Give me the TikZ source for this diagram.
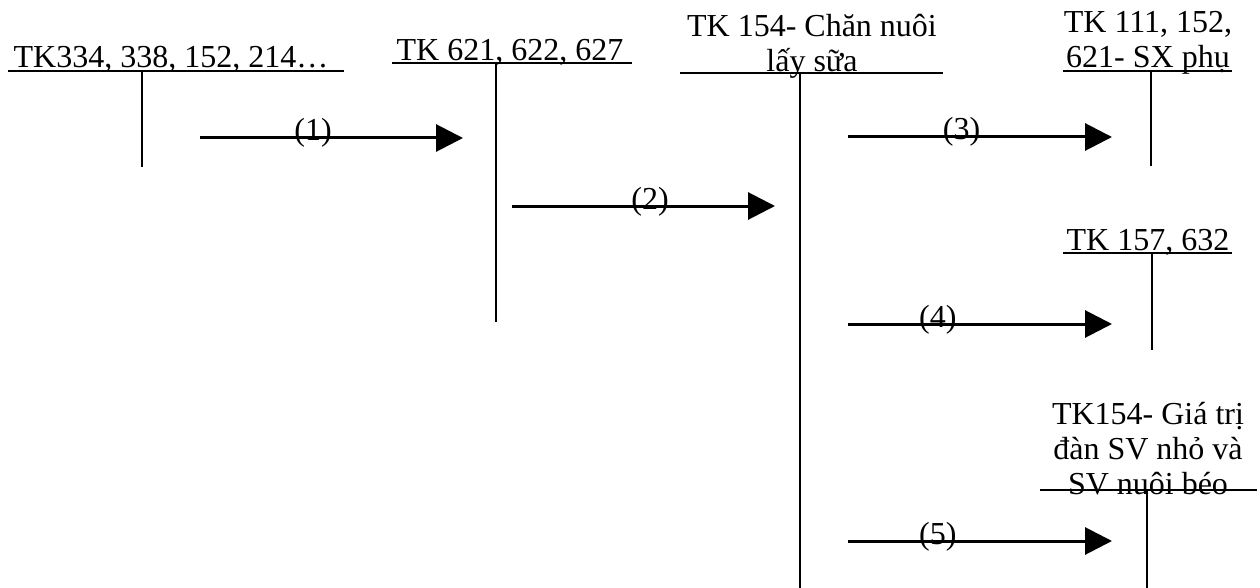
\documentclass[tikz,border=0pt]{standalone}
\usepackage{fontspec}
\setmainfont{Liberation Serif}
\usetikzlibrary{arrows.meta}

\begin{document}
\begin{tikzpicture}[x=1pt,y=-1pt,font=\fontsize{32}{35}\selectfont,
    title/.style={anchor=base,inner sep=0pt,align=center},
    num/.style={anchor=base,inner sep=0pt,yshift=-3pt},
    flow/.style={line width=3pt,-{Triangle[length=27pt,width=27pt]}},
    tline/.style={line width=2pt},
    stem/.style={line width=1.5pt}]
  \useasboundingbox (0,0) rectangle (1260,588);
%  \draw[help lines,step=50] (0,0) grid (1260,588);
    % account titles
    \path (171,68) node(a) [title] {TK334, 338, 152, 214…}
    (510,61) node(b) [title] {TK 621, 622, 627}
    (812,72) node(c) [title] {TK 154- Chăn nuôi\\lấy sữa}
    (1148,68) node(d) [title] {TK 111, 152,\\621- SX phụ}
    (1148,250) node(e) [title] {TK 157, 632}
    (1148,494) node(f) [title] {TK154- Giá trị\\đàn SV nhỏ và\\SV nuôi béo};
    % T-accounts
    \draw[tline] (8,71) -- (344,71);
    \draw[stem] (142,71) -- (142,167);
    \draw[tline] (392,63) -- (632,63);
    \draw[stem] (496,63) -- (496,322);
    \draw[tline] (680,73) -- (943,73);
    \draw[stem] (800,73) -- (800,588);
    \draw[tline] (1063,71) -- (1232,71);
    \draw[stem] (1151,71) -- (1151,166);
    \draw[tline] (1063,253) -- (1232,253);
    \draw[stem] (1152,253) -- (1152,350);
    \draw[tline] (1040,490) -- (1257,490);
    \draw[stem] (1147,490) -- (1147,588);
    % flows
    \coordinate (s1) at (200,138); \coordinate (t1) at (463,138);
    \coordinate (s2) at (512,206); \coordinate (t2) at (775,206);
    \coordinate (s3) at (848,137); \coordinate (t3) at (1112,137);
    \coordinate (s4) at (848,324); \coordinate (t4) at (1112,324);
    \coordinate (s5) at (848,541); \coordinate (t5) at (1112,541);
    \draw[flow] (s1) -- (t1) node [num,pos=0.43] {(1)};
    \draw[flow] (s2) -- (t2) node [num,pos=0.525] {(2)};
    \draw[flow] (s3) -- (t3) node [num,pos=0.43] {(3)};
    \draw[flow] (s4) -- (t4) node [num,pos=0.34] {(4)};
    \draw[flow] (s5) -- (t5) node [num,pos=0.34] {(5)};
  \end{tikzpicture}
\end{document}
